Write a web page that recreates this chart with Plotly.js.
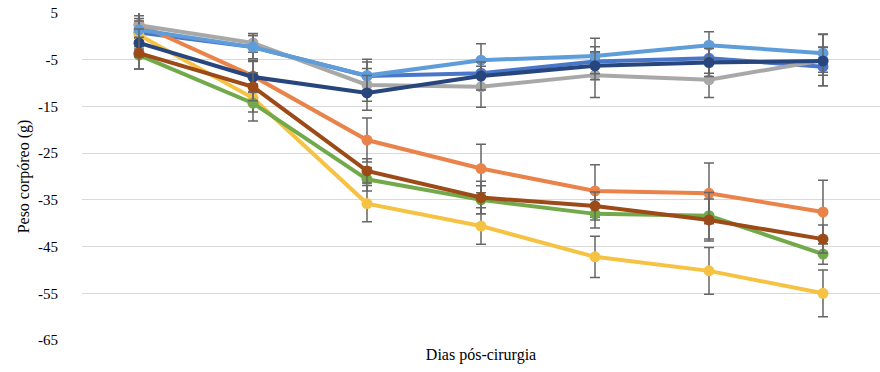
<!DOCTYPE html>
<html>
<head>
<meta charset="utf-8">
<script src="https://cdn.plot.ly/plotly-3.0.1.min.js"></script>
<style>html,body{margin:0;padding:0;background:#fff;}#chart{width:880px;height:372px;}</style>
</head>
<body>
<div id="chart"></div>
<script>
const days = [0, 1, 2, 3, 4, 5, 6];
const tickLabels = ["5", "-5", "-15", "-25", "-35", "-45", "-55", "-65"];
const tickValues = [5, -5, -15, -25, -35, -45, -55, -65];

const blueVals      = [0.8, -2.3, -8.5, -7.9, -5.4, -4.7, -6.5];
const blueErr       = [3.0, 2.5, 3.0, 3.0, 3.2, 3.2, 4.1];
const orangeVals    = [2.6, -8.5, -22.2, -28.3, -33.1, -33.6, -37.6];
const orangeErr     = [3.0, 3.3, 4.7, 5.2, 5.6, 6.5, 6.8];
const grayVals      = [2.4, -1.4, -10.4, -10.8, -8.3, -9.3, -5.1];
const grayErr       = [3.7, 2.0, 3.5, 4.4, 4.8, 3.8, 5.5];
const yellowVals    = [0.3, -13.2, -35.8, -40.6, -47.2, -50.2, -55.0];
const yellowErr     = [3.0, 3.0, 3.9, 3.9, 4.4, 5.0, 5.0];
const lightBlueVals = [1.4, -2.3, -8.4, -5.1, -4.2, -1.9, -3.6];
const lightBlueErr  = [3.0, 2.5, 3.5, 3.5, 3.8, 2.9, 4.1];
const greenVals     = [-4.0, -14.3, -30.6, -35.0, -38.0, -38.4, -46.6];
const greenErr      = [3.0, 3.8, 2.5, 3.0, 3.0, 5.0, 2.2];
const navyVals      = [-1.4, -8.7, -12.1, -8.5, -6.3, -5.6, -5.3];
const navyErr       = [3.0, 3.3, 3.7, 3.0, 3.0, 3.0, 3.0];
const brownVals     = [-3.6, -10.8, -28.8, -34.5, -36.3, -39.3, -43.4];
const brownErr      = [3.4, 3.0, 2.6, 3.5, 3.0, 4.5, 3.0];

const series = [
  {y: blueVals, e: blueErr, c: "#4A76C8"},
  {y: orangeVals, e: orangeErr, c: "#E9834A"},
  {y: grayVals, e: grayErr, c: "#A8A8A8"},
  {y: yellowVals, e: yellowErr, c: "#F6C243"},
  {y: lightBlueVals, e: lightBlueErr, c: "#5E9DDA"},
  {y: greenVals, e: greenErr, c: "#72AA4B"},
  {y: navyVals, e: navyErr, c: "#28467E"},
  {y: brownVals, e: brownErr, c: "#9C4A17"}
];

const traces = series.map(s => ({
  x: days, y: s.y, type: "scatter", mode: "lines+markers",
  line: {color: s.c, width: 4},
  marker: {color: s.c, size: 11},
  error_y: {type: "data", array: s.e, visible: true, color: "#666666", thickness: 1.5, width: 5},
  hoverinfo: "skip", showlegend: false
}));

const layout = {
  width: 880, height: 372,
  margin: {l: 82, r: 0, t: 13, b: 32},
  paper_bgcolor: "#ffffff", plot_bgcolor: "#ffffff",
  font: {family: "Liberation Serif, Times New Roman, serif", size: 15, color: "#000000"},
  xaxis: {
    range: [-0.5, 6.5], showticklabels: false, showgrid: false, zeroline: false,
    showline: false, ticks: "", fixedrange: true,
    title: {text: "Dias pós-cirurgia", font: {size: 16}, standoff: 8}
  },
  yaxis: {
    range: [-65, 5], tickvals: tickValues, ticktext: tickLabels,
    showgrid: true, gridcolor: "#D9D9D9", gridwidth: 1, zeroline: false,
    showline: false, ticks: "outside", ticklen: 20, tickcolor: "rgba(0,0,0,0)",
    tickfont: {size: 15}, automargin: false,
    title: {text: "Peso corpóreo (g)", font: {size: 16}, standoff: 4}
  }
};

Plotly.newPlot("chart", traces, layout, {staticPlot: true, displayModeBar: false});
</script>
</body>
</html>
